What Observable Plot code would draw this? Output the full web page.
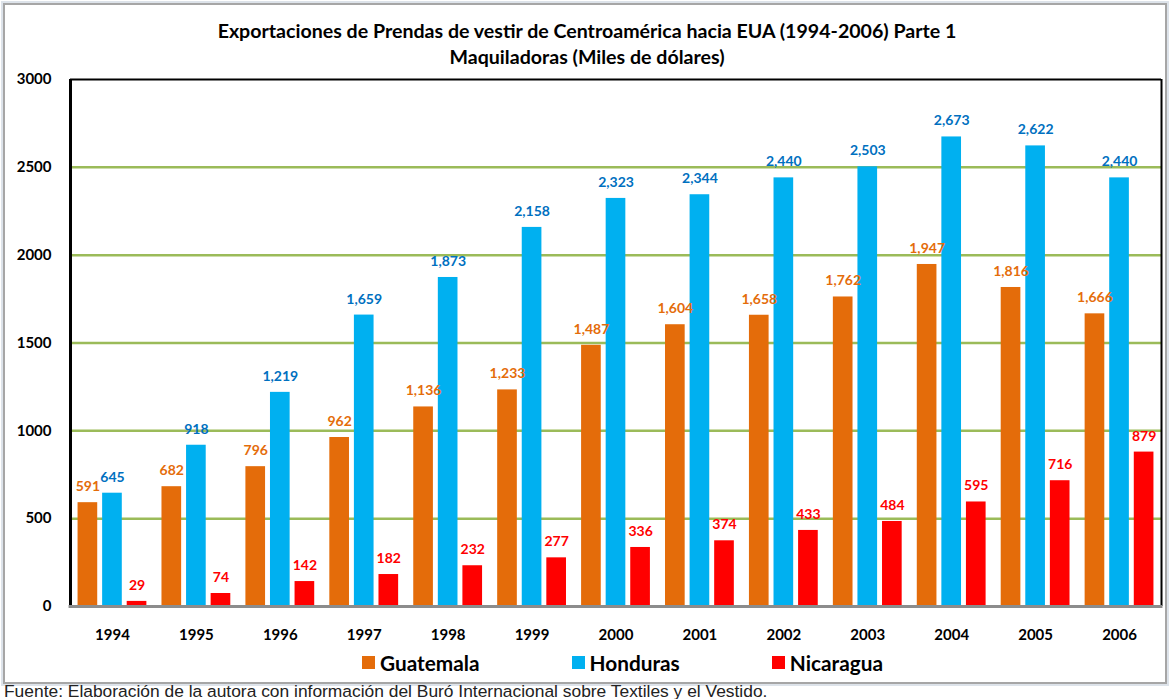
<!DOCTYPE html>
<html>
<head>
<meta charset="utf-8">
<script src="https://cdn.jsdelivr.net/npm/d3@7"></script>
<script src="https://cdn.jsdelivr.net/npm/@observablehq/plot@0.6"></script>
<style>
  html, body { margin: 0; padding: 0; background: #fff; }
  body { position: relative; width: 1171px; height: 699px; overflow: hidden; font-family: Lato, "Open Sans", sans-serif; }
  #frame { position: absolute; left: 3px; top: 3px; width: 1160px; height: 677px; border: 2px solid #a6a6a6; box-shadow: 0 0 0 2px #dde3ea; background: #fff; }
  #title { position: absolute; left: 0; top: 18px; width: 1174px; text-align: center; font-weight: bold; font-size: 19.6px; line-height: 26px; color: #000; }
  .layer { position: absolute; left: 0; top: 0; }
  #legend { position: absolute; left: 362px; top: 650px; display: flex; gap: 92px; align-items: center; font-weight: bold; font-size: 20.8px; color: #000; }
  #legend .item { display: flex; align-items: center; gap: 5px; }
  #legend .sw { width: 13px; height: 13px; display: inline-block; }
  #caption { position: absolute; left: 4px; top: 681px; font-family: "Liberation Sans", Arial, sans-serif; font-size: 17.4px; line-height: 20px; color: #222; white-space: nowrap; }
</style>
</head>
<body>
<div id="frame"></div>
<div id="title">Exportaciones de Prendas de vestir de Centroamérica hacia EUA (1994-2006) Parte 1<br>Maquiladoras (Miles de dólares)</div>
<div id="bg" class="layer"></div>
<div id="fg" class="layer"></div>
<div id="legend"></div>
<div id="caption">Fuente: Elaboración de la autora con información del Buró Internacional sobre Textiles y el Vestido.</div>
<script>
const years = ["1994","1995","1996","1997","1998","1999","2000","2001","2002","2003","2004","2005","2006"];
const countries = ["Guatemala", "Honduras", "Nicaragua"];
const guatemala = [591, 682, 796, 962, 1136, 1233, 1487, 1604, 1658, 1762, 1947, 1816, 1666];
const honduras  = [645, 918, 1219, 1659, 1873, 2158, 2323, 2344, 2440, 2503, 2673, 2622, 2440];
const nicaragua = [29, 74, 142, 182, 232, 277, 336, 374, 433, 484, 595, 716, 879];
const barColors = ["#E46C0A", "#00B0F0", "#FF0000"];
const labelColors = ["#E46C0A", "#0070C0", "#FF0000"];
const yTicks = [0, 500, 1000, 1500, 2000, 2500, 3000];

const series = [guatemala, honduras, nicaragua];
const rows = years.flatMap((yr, i) => countries.map((c, j) => ({year: yr, country: c, value: series[j][i]})));
const fmt = d3.format(",");

const W = 1171, H = 650, MT = 79, MB = 44, ML = 70, MR = 10;
const baseStyle = {fontFamily: "Lato, 'Open Sans', sans-serif", fontWeight: "bold", fontSize: "15px", color: "#000", background: "transparent", overflow: "visible"};

const bg = Plot.plot({
  width: W, height: H, marginTop: MT, marginBottom: MB, marginLeft: ML, marginRight: MR,
  x: {domain: [0, 1], axis: null},
  y: {domain: [0, 3000], ticks: yTicks, tickFormat: d3.format("d"), tickSize: 0, tickPadding: 19, label: null},
  style: baseStyle,
  marks: [
    Plot.ruleY(yTicks.filter(v => v > 0 && v < 3000), {stroke: "#9BBB59", strokeWidth: 2.5}),
    Plot.ruleY([3000], {stroke: "#000", strokeWidth: 2}),
    Plot.ruleX([0], {stroke: "#000", strokeWidth: 3}),
    Plot.ruleX([1], {stroke: "#000", strokeWidth: 2})
  ]
});
document.getElementById("bg").appendChild(bg);

const fg = Plot.plot({
  width: W, height: H, marginTop: MT, marginBottom: MB, marginLeft: ML, marginRight: MR,
  facet: {data: rows, x: "year"},
  fx: {domain: years, paddingInner: 0.18, paddingOuter: 0.09, round: false, tickSize: 0, tickPadding: 23, label: null, axis: "bottom"},
  x: {domain: countries, axis: null, paddingInner: 0.2, paddingOuter: 0, round: false},
  y: {domain: [0, 3000], axis: null},
  color: {domain: countries, range: barColors},
  style: baseStyle,
  marks: [
    Plot.barY(rows, {x: "country", y: "value", fill: "country"}),
    Plot.ruleY(rows, {filter: d => d.country === "Guatemala", y: () => 0, stroke: "#8c8c8c", strokeWidth: 3, insetLeft: -9, insetRight: -9}),
    ...countries.map((c, j) => Plot.text(rows, {
      filter: d => d.country === c,
      x: "country", y: "value", text: d => fmt(d.value),
      dy: -16, fill: labelColors[j], fontSize: 14, fontWeight: "bold"
    }))
  ]
});
document.getElementById("fg").appendChild(fg);

const legend = document.getElementById("legend");
countries.forEach((c, j) => {
  const item = document.createElement("div");
  item.className = "item";
  const sw = document.createElement("span");
  sw.className = "sw";
  sw.style.background = barColors[j];
  const t = document.createElement("span");
  t.textContent = c;
  item.appendChild(sw); item.appendChild(t);
  legend.appendChild(item);
});
</script>
</body>
</html>
